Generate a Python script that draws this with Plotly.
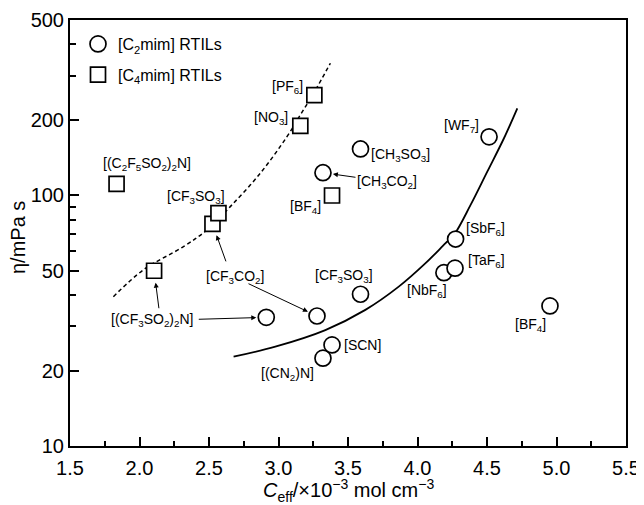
import numpy as np
import plotly.graph_objects as go

# ---------------- data ----------------
c2_names = ["[WF<sub>7</sub>]", "[CH<sub>3</sub>SO<sub>3</sub>]", "[CH<sub>3</sub>CO<sub>2</sub>]",
            "[SbF<sub>6</sub>]", "[NbF<sub>6</sub>]", "[TaF<sub>6</sub>]",
            "[CF<sub>3</sub>SO<sub>3</sub>]", "[BF<sub>4</sub>]", "[CF<sub>3</sub>CO<sub>2</sub>]",
            "[(CF<sub>3</sub>SO<sub>2</sub>)<sub>2</sub>N]", "[(CN<sub>2</sub>)N]", "[SCN]"]
c2_ceff = [4.515, 3.59, 3.32, 4.274, 4.19, 4.27, 3.59, 4.953, 3.277, 2.912, 3.32, 3.385]
c2_eta = [171, 153, 123, 66.9, 49.1, 51.2, 40.3, 36.2, 33.0, 32.6, 22.4, 25.3]

c4_names = ["[PF<sub>6</sub>]", "[NO<sub>3</sub>]", "[(C<sub>2</sub>F<sub>5</sub>SO<sub>2</sub>)<sub>2</sub>N]",
            "[CF<sub>3</sub>CO<sub>2</sub>]", "[CF<sub>3</sub>SO<sub>3</sub>]", "[BF<sub>4</sub>]",
            "[(CF<sub>3</sub>SO<sub>2</sub>)<sub>2</sub>N]"]
c4_ceff = [3.258, 3.157, 1.835, 2.525, 2.568, 3.385, 2.105]
c4_eta = [251, 189, 111, 76.9, 84.8, 99.8, 50.0]

# fitted curves
c4_fit_ceff = [1.812, 2.028, 2.316, 2.485, 2.653, 2.869, 3.061, 3.157, 3.253, 3.373]
c4_fit_eta = [39.4, 50.4, 62.4, 72.7, 90.1, 122.4, 171.3, 209.1, 255.3, 336.1]
c2_fit_ceff = [2.677, 2.977, 3.337, 3.625, 3.865, 4.058, 4.202, 4.262, 4.382, 4.502, 4.622, 4.718]
c2_fit_eta = [22.7, 24.9, 29.0, 34.9, 43.2, 53.6, 64.4, 69.4, 91.5, 124.2, 168.8, 222.3]

x_ticks = [1.5, 2.0, 2.5, 3.0, 3.5, 4.0, 4.5, 5.0, 5.5]
x_ticktext = ["1.5", "2.0", "2.5", "3.0", "3.5", "4.0", "4.5", "5.0", "5.5"]
x_minor = [1.75, 2.25, 2.75, 3.25, 3.75, 4.25, 4.75, 5.25]
y_ticks = [10, 20, 50, 100, 200, 500]
y_ticktext = ["10", "20", "50", "100", "200", "500"]
y_minor = [30, 40, 60, 70, 80, 90, 300, 400]

FONT = "Liberation Sans, Arial, sans-serif"

# page body has an 8px margin; plot area spans x 70..626, y 20..446 in the window
W, H = 636, 497
ML, MR, MT, MB = 62, 18, 12, 59
PW, PH = W - ML - MR, H - MT - MB

fig = go.Figure()
fig.add_trace(go.Scatter(x=c4_fit_ceff, y=c4_fit_eta, mode="lines", line_shape="spline",
                         line=dict(color="black", width=1.5, dash="4px,3px"), showlegend=False,
                         hoverinfo="skip"))
fig.add_trace(go.Scatter(x=c2_fit_ceff, y=c2_fit_eta, mode="lines", line_shape="spline",
                         line=dict(color="black", width=1.8), showlegend=False, hoverinfo="skip"))
fig.add_trace(go.Scatter(x=c2_ceff, y=c2_eta, mode="markers", name="[C<sub>2</sub>mim] RTILs",
                         legendgroup="a",
                         marker=dict(symbol="circle", size=16, color="white",
                                     line=dict(color="black", width=1.7))))
fig.add_trace(go.Scatter(x=c4_ceff, y=c4_eta, mode="markers", name="[C<sub>4</sub>mim] RTILs",
                         legendgroup="b",
                         marker=dict(symbol="square", size=15, color="white",
                                     line=dict(color="black", width=1.7))))

ann = []
lab_font = dict(family=FONT, size=14, color="black")


def lab(name_list, xs, ys, name, dx, dy):
    i = name_list.index(name)
    ann.append(dict(x=xs[i], y=np.log10(ys[i]), text=name, showarrow=False,
                    xshift=dx, yshift=dy, font=lab_font))


def arrow(name_list, xs, ys, name, ax, ay, standoff):
    i = name_list.index(name)
    ann.append(dict(x=xs[i], y=np.log10(ys[i]), text="", showarrow=True, ax=ax, ay=ay,
                    arrowhead=2, arrowsize=1, arrowwidth=1, arrowcolor="black",
                    standoff=standoff))


# C4 labels
lab(c4_names, c4_ceff, c4_eta, "[PF<sub>6</sub>]", -27, 8)
lab(c4_names, c4_ceff, c4_eta, "[NO<sub>3</sub>]", -29, 8)
lab(c4_names, c4_ceff, c4_eta, "[(C<sub>2</sub>F<sub>5</sub>SO<sub>2</sub>)<sub>2</sub>N]", 30, 20)
lab(c4_names, c4_ceff, c4_eta, "[CF<sub>3</sub>SO<sub>3</sub>]", -22, 16)
lab(c4_names, c4_ceff, c4_eta, "[BF<sub>4</sub>]", -27, -12)
# C2 labels
lab(c2_names, c2_ceff, c2_eta, "[WF<sub>7</sub>]", -28, 11)
lab(c2_names, c2_ceff, c2_eta, "[CH<sub>3</sub>SO<sub>3</sub>]", 40, -6)
lab(c2_names, c2_ceff, c2_eta, "[SbF<sub>6</sub>]", 30, 10)
lab(c2_names, c2_ceff, c2_eta, "[TaF<sub>6</sub>]", 31, 7)
lab(c2_names, c2_ceff, c2_eta, "[NbF<sub>6</sub>]", -17, -18)
lab(c2_names, c2_ceff, c2_eta, "[CF<sub>3</sub>SO<sub>3</sub>]", -17, 18)
lab(c2_names, c2_ceff, c2_eta, "[BF<sub>4</sub>]", -19, -19)
lab(c2_names, c2_ceff, c2_eta, "[SCN]", 30, 0)
lab(c2_names, c2_ceff, c2_eta, "[(CN<sub>2</sub>)N]", -35, -16)

# [CH3CO2] label with arrow
i = c2_names.index("[CH<sub>3</sub>CO<sub>2</sub>]")
ann.append(dict(x=c2_ceff[i], y=np.log10(c2_eta[i]), text="[CH<sub>3</sub>CO<sub>2</sub>]",
                showarrow=True, ax=64, ay=9, arrowhead=2, arrowsize=1, arrowwidth=1,
                arrowcolor="black", standoff=10, font=lab_font))

# shared [CF3CO2] label with two arrows
i = c4_names.index("[CF<sub>3</sub>CO<sub>2</sub>]")
ann.append(dict(x=c4_ceff[i], y=np.log10(c4_eta[i]), text="[CF<sub>3</sub>CO<sub>2</sub>]",
                showarrow=False, xshift=23, yshift=-53, font=lab_font))
arrow(c4_names, c4_ceff, c4_eta, "[CF<sub>3</sub>CO<sub>2</sub>]", 14, 39, 12)
arrow(c2_names, c2_ceff, c2_eta, "[CF<sub>3</sub>CO<sub>2</sub>]", -70, -33, 10)

# shared [(CF3SO2)2N] label with two arrows
i = c4_names.index("[(CF<sub>3</sub>SO<sub>2</sub>)<sub>2</sub>N]")
ann.append(dict(x=c4_ceff[i], y=np.log10(c4_eta[i]),
                text="[(CF<sub>3</sub>SO<sub>2</sub>)<sub>2</sub>N]",
                showarrow=False, xshift=-2, yshift=-49, font=lab_font))
arrow(c4_names, c4_ceff, c4_eta, "[(CF<sub>3</sub>SO<sub>2</sub>)<sub>2</sub>N]", 5, 39, 12)
arrow(c2_names, c2_ceff, c2_eta, "[(CF<sub>3</sub>SO<sub>2</sub>)<sub>2</sub>N]", -69, 2, 10)

# axis titles (positions given in window pixels, converted to paper coords)
ann.append(dict(xref="paper", yref="paper", x=(18 - 70) / PW, y=(446 - 238) / PH,
                xanchor="center", yanchor="middle",
                text="η/mPa s", textangle=-90, showarrow=False,
                font=dict(family=FONT, size=20, color="black")))
ann.append(dict(xref="paper", yref="paper", x=(348 - 70) / PW, y=-(490 - 446) / PH,
                xanchor="center", yanchor="middle",
                text="<i>C</i><sub>eff</sub>/×10<sup>−3</sup> mol cm<sup>−3</sup>",
                showarrow=False, font=dict(family=FONT, size=20, color="black")))

fig.update_layout(
    width=W, height=H,
    margin=dict(l=ML, r=MR, t=MT, b=MB, autoexpand=False),
    paper_bgcolor="white", plot_bgcolor="white",
    font=dict(family=FONT, color="black"),
    annotations=ann,
    showlegend=True,
    legend=dict(x=(78 - 70) / PW, y=(446 - 27) / PH, xanchor="left", yanchor="top",
                bgcolor="rgba(0,0,0,0)", font=dict(family=FONT, size=16, color="black"),
                tracegroupgap=7, traceorder="grouped"),
    xaxis=dict(range=[1.5, 5.5], tickmode="array", tickvals=x_ticks, ticktext=x_ticktext,
               ticks="inside", ticklen=9, tickwidth=1.5, tickcolor="black", automargin=False,
               ticklabelstandoff=3,
               showline=True, linecolor="black", linewidth=2, mirror=True,
               showgrid=False, zeroline=False,
               tickfont=dict(family=FONT, size=20, color="black"),
               minor=dict(tickmode="array", tickvals=x_minor,
                          ticks="inside", ticklen=5, tickwidth=1.5, tickcolor="black",
                          showgrid=False)),
    yaxis=dict(type="log", range=[1, np.log10(500)], tickmode="array", tickvals=y_ticks,
               ticktext=y_ticktext, ticks="inside", ticklen=9, tickwidth=1.5, tickcolor="black",
               automargin=False,
               showline=True, linecolor="black", linewidth=2, mirror=True,
               showgrid=False, zeroline=False,
               tickfont=dict(family=FONT, size=20, color="black"),
               minor=dict(tickmode="array", tickvals=y_minor, ticks="inside", ticklen=6,
                          tickwidth=1.5, tickcolor="black", showgrid=False)),
)

fig.write_html("out.html")
